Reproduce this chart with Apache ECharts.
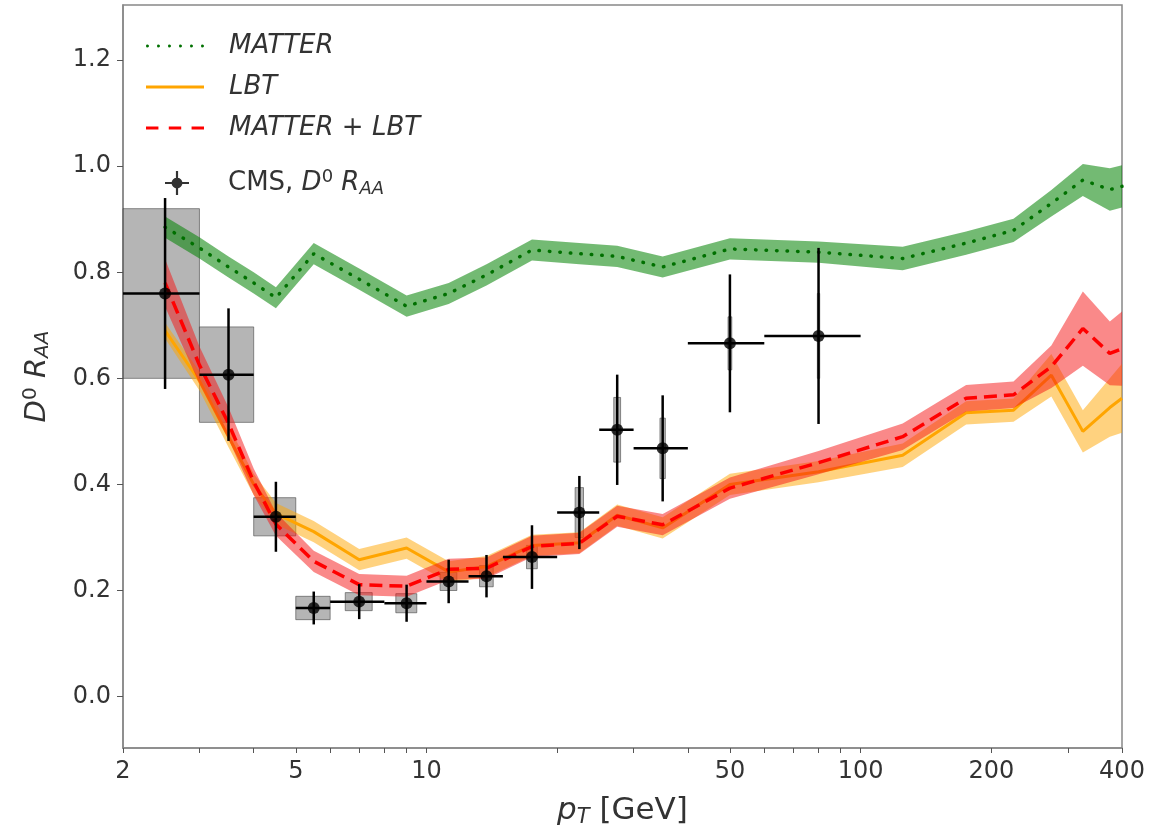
<!DOCTYPE html>
<html lang="en">
<head>
<meta charset="utf-8">
<title>D0 RAA vs pT</title>
<script src="https://cdn.jsdelivr.net/npm/echarts@6/dist/echarts.min.js"></script>
<style>
  html, body { margin: 0; padding: 0; background: #fff; }
  #chart { width: 1171px; height: 833px; }
</style>
</head>
<body>
<div id="chart"></div>
<script>
// theory curves, pT nodes in GeV
var thPt      = [2.5, 3, 3.5, 4, 4.5, 5.5, 7, 9, 11.25, 13.75, 17.5, 22.5, 27.5, 35, 50, 80, 125, 175, 225, 275, 325, 375, 400];
var matter    = [0.885, 0.846, 0.81, 0.78, 0.752, 0.835, 0.787, 0.736, 0.76, 0.795, 0.842, 0.835, 0.83, 0.81, 0.844, 0.838, 0.826, 0.855, 0.879, 0.93, 0.974, 0.956, 0.962];
var matterErr = [0.02, 0.02, 0.02, 0.02, 0.02, 0.02, 0.02, 0.02, 0.02, 0.02, 0.02, 0.02, 0.02, 0.02, 0.02, 0.02, 0.022, 0.022, 0.022, 0.025, 0.03, 0.04, 0.04];
var lbt       = [0.69, 0.595, 0.49, 0.40, 0.345, 0.311, 0.258, 0.28, 0.235, 0.245, 0.285, 0.29, 0.342, 0.318, 0.40, 0.424, 0.455, 0.535, 0.54, 0.606, 0.50, 0.545, 0.5625];
var lbtErr    = [0.015, 0.018, 0.02, 0.02, 0.02, 0.02, 0.02, 0.02, 0.02, 0.02, 0.02, 0.02, 0.02, 0.02, 0.02, 0.02, 0.022, 0.022, 0.022, 0.04, 0.04, 0.055, 0.065];
var comb      = [0.78, 0.625, 0.515, 0.405, 0.325, 0.255, 0.211, 0.208, 0.24, 0.242, 0.283, 0.289, 0.34, 0.324, 0.393, 0.441, 0.49, 0.5625, 0.569, 0.622, 0.694, 0.647, 0.656];
var combErr   = [0.045, 0.035, 0.03, 0.025, 0.022, 0.02, 0.02, 0.02, 0.02, 0.02, 0.02, 0.02, 0.02, 0.02, 0.02, 0.022, 0.025, 0.025, 0.025, 0.04, 0.07, 0.06, 0.07];

// CMS D0 RAA data
var cmsPt   = [2.5, 3.5, 4.5, 5.5, 7, 9, 11.25, 13.75, 17.5, 22.5, 27.5, 35, 50, 80];
var cmsLo   = [2, 3, 4, 5, 6, 8, 10, 12.5, 15, 20, 25, 30, 40, 60];
var cmsHi   = [3, 4, 5, 6, 8, 10, 12.5, 15, 20, 25, 30, 40, 60, 100];
var cmsRaa  = [0.760, 0.607, 0.339, 0.167, 0.179, 0.176, 0.217, 0.227, 0.263, 0.347, 0.503, 0.468, 0.666, 0.680];
var cmsStat = [0.18, 0.125, 0.066, 0.031, 0.033, 0.035, 0.041, 0.04, 0.06, 0.069, 0.104, 0.10, 0.13, 0.166];
var cmsSyst = [0.16, 0.09, 0.036, 0.022, 0.017, 0.018, 0.017, 0.02, 0.022, 0.047, 0.061, 0.057, 0.05, 0.08];

// axis ticks
var xLabels = [2, 5, 10, 50, 100, 200, 400];
var xTicks  = [2, 3, 4, 5, 6, 7, 8, 9, 10, 20, 30, 40, 50, 60, 70, 80, 90, 100, 200, 300, 400];
var yLabels = [0, 0.2, 0.4, 0.6, 0.8, 1.0, 1.2];

var FONT = 'DejaVu Sans';
var TXT = '#333';

function pairs(xs, ys) {
    return xs.map(function (x, i) { return [x, ys[i]]; });
}

// filled band between v-err and v+err, drawn as one polygon
function bandSeries(id, vals, errs, color, z) {
    var data = thPt.map(function (x, i) { return [x, vals[i] - errs[i], vals[i] + errs[i]]; });
    return {
        name: id + '_band', type: 'custom', data: data, z: z, silent: true,
        encode: { x: 0, y: [1, 2] },
        renderItem: function (params, api) {
            if (params.dataIndexInside !== 0) return null;
            var n = data.length, up = [], dn = [];
            for (var i = 0; i < n; i++) {
                var x = api.value(0, i);
                up.push(api.coord([x, api.value(2, i)]));
                dn.unshift(api.coord([x, api.value(1, i)]));
            }
            return {
                type: 'polygon',
                shape: { points: up.concat(dn) },
                style: { fill: color }
            };
        }
    };
}

var cmsData = cmsPt.map(function (x, i) {
    return [x, cmsRaa[i], cmsLo[i], cmsHi[i], cmsStat[i], cmsSyst[i]];
});

var chart = echarts.init(document.getElementById('chart'));

var series = [];
// systematic boxes (fixed 1 GeV wide)
series.push({
    name: 'syst', type: 'custom', data: cmsData, z: 1, silent: true,
    encode: { x: 0, y: 1 },
    renderItem: function (params, api) {
        var x = api.value(0), y = api.value(1), s = api.value(5);
        var p1 = api.coord([x - 0.5, y + s]);
        var p2 = api.coord([x + 0.5, y - s]);
        return {
            type: 'rect',
            shape: { x: p1[0], y: p1[1], width: p2[0] - p1[0], height: p2[1] - p1[1] },
            style: { fill: 'rgba(120,120,120,0.55)', stroke: 'rgba(70,70,70,0.6)', lineWidth: 1 }
        };
    }
});
series.push(bandSeries('matter', matter, matterErr, 'rgba(0,130,0,0.55)', 2));
series.push({
    name: 'MATTER', type: 'line', data: pairs(thPt, matter), symbol: 'none', z: 3,
    lineStyle: { color: '#007000', width: 3.5, type: [0.5, 10], cap: 'round' },
    itemStyle: { color: '#007000' }
});
series.push(bandSeries('lbt', lbt, lbtErr, 'rgba(255,165,0,0.5)', 4));
series.push({
    name: 'LBT', type: 'line', data: pairs(thPt, lbt), symbol: 'none', z: 5,
    lineStyle: { color: '#ffa500', width: 3 },
    itemStyle: { color: '#ffa500' }
});
series.push(bandSeries('comb', comb, combErr, 'rgba(245,20,20,0.5)', 6));
series.push({
    name: 'MATTER + LBT', type: 'line', data: pairs(thPt, comb), symbol: 'none', z: 7,
    lineStyle: { color: '#ff0000', width: 3.5, type: [13, 7] },
    itemStyle: { color: '#ff0000' }
});
// stat error bars and bin widths
series.push({
    name: 'errbars', type: 'custom', data: cmsData, z: 10, silent: true,
    encode: { x: 0, y: 1 },
    renderItem: function (params, api) {
        var x = api.value(0), y = api.value(1);
        var l = api.coord([api.value(2), y]);
        var r = api.coord([api.value(3), y]);
        var t = api.coord([x, y + api.value(4)]);
        var b = api.coord([x, y - api.value(4)]);
        var st = { stroke: '#000', lineWidth: 2.5 };
        return {
            type: 'group',
            children: [
                { type: 'line', shape: { x1: l[0], y1: l[1], x2: r[0], y2: r[1] }, style: st },
                { type: 'line', shape: { x1: t[0], y1: t[1], x2: b[0], y2: b[1] }, style: st }
            ]
        };
    }
});
series.push({
    name: 'CMS', type: 'scatter', data: pairs(cmsPt, cmsRaa), z: 11,
    symbol: 'circle', symbolSize: 12, itemStyle: { color: '#000' }
});

// legend icons
var iconDots = 'path://' + [0, 11, 22, 33, 44, 55].map(function (c) {
    return 'M' + c + ',1.5 A1.5,1.5 0 1,1 ' + (c + 0.01) + ',1.5 Z';
}).join(' ');
var iconLine = 'path://M0,0 L56,0 L56,3 L0,3 Z';
var iconDash = 'path://M0,0 L12,0 L12,3 L0,3 Z M22,0 L34,0 L34,3 L22,3 Z M44,0 L56,0 L56,3 L44,3 Z';
var iconCms  = 'path://M0,9 L22,9 L22,11 L0,11 Z M10,-1 L12,-1 L12,21 L10,21 Z M11,5 A5,5 0 1,1 10.99,5 Z';

function legendText(padLeft) {
    return {
        fontFamily: FONT, fontSize: 26, color: TXT, padding: [0, 0, 0, padLeft],
        rich: {
            n: { fontFamily: FONT, fontSize: 26, color: TXT },
            i: { fontFamily: FONT, fontSize: 26, color: TXT, fontStyle: 'italic' },
            sup: { fontFamily: FONT, fontSize: 18, color: TXT, verticalAlign: 'top', padding: [0, 0, 12, 0] },
            sub: { fontFamily: FONT, fontSize: 18, color: TXT, fontStyle: 'italic', verticalAlign: 'bottom', padding: [12, 0, 0, 0] }
        }
    };
}
function legendFormat(name) {
    if (name === 'CMS') return '{n|CMS, }{i|D}{sup|0} {i|R}{sub|AA}';
    return '{i|' + name + '}';
}

chart.setOption({
    animation: false,
    backgroundColor: '#fff',
    textStyle: { fontFamily: FONT },
    grid: { left: 123, right: 49, top: 5, bottom: 85, show: true, borderColor: '#888', borderWidth: 1.5, backgroundColor: 'transparent' },
    legend: [{
        orient: 'vertical', left: 141, top: 28, itemWidth: 58, itemHeight: 24, itemGap: 15,
        selectedMode: false, textStyle: legendText(20), formatter: legendFormat,
        data: [
            { name: 'MATTER', icon: iconDots },
            { name: 'LBT', icon: iconLine },
            { name: 'MATTER + LBT', icon: iconDash }
        ]
    }, {
        orient: 'vertical', left: 160, top: 163, itemWidth: 60, itemHeight: 24,
        selectedMode: false, textStyle: legendText(16), formatter: legendFormat,
        data: [{ name: 'CMS', icon: iconCms }]
    }],
    xAxis: {
        type: 'log', logBase: 10, min: 2, max: 400,
        name: '{i|p}{sub|T} [GeV]', nameLocation: 'middle', nameGap: 46,
        nameTextStyle: {
            fontFamily: FONT, fontSize: 31, color: TXT,
            rich: {
                i: { fontFamily: FONT, fontSize: 31, color: TXT, fontStyle: 'italic' },
                sub: { fontFamily: FONT, fontSize: 21, color: TXT, fontStyle: 'italic', verticalAlign: 'bottom', padding: [13, 0, 0, 0] }
            }
        },
        axisLine: { show: true, onZero: false, lineStyle: { color: '#888', width: 1.5 } },
        axisTick: { show: true, length: 5, lineStyle: { color: '#555' }, customValues: xTicks },
        axisLabel: { fontFamily: FONT, fontSize: 24, color: TXT, margin: 12, customValues: xLabels },
        splitLine: { show: false },
        minorTick: { show: false }
    },
    yAxis: {
        type: 'value', min: -0.097, max: 1.304,
        name: '{i|D}{sup|0} {i|R}{sub|AA}', nameLocation: 'middle', nameGap: 70, nameRotate: 90,
        nameTextStyle: {
            fontFamily: FONT, fontSize: 29, color: TXT,
            rich: {
                i: { fontFamily: FONT, fontSize: 29, color: TXT, fontStyle: 'italic' },
                sup: { fontFamily: FONT, fontSize: 20, color: TXT, verticalAlign: 'top', padding: [0, 0, 12, 0] },
                sub: { fontFamily: FONT, fontSize: 20, color: TXT, fontStyle: 'italic', verticalAlign: 'bottom', padding: [12, 0, 0, 0] }
            }
        },
        axisLine: { show: true, onZero: false, lineStyle: { color: '#888', width: 1.5 } },
        axisTick: { show: true, length: 6, lineStyle: { color: '#555' }, customValues: yLabels },
        axisLabel: {
            fontFamily: FONT, fontSize: 24, color: TXT, margin: 12, customValues: yLabels,
            formatter: function (v) { return v.toFixed(1); }
        },
        splitLine: { show: false }
    },
    series: series
});
</script>
</body>
</html>
